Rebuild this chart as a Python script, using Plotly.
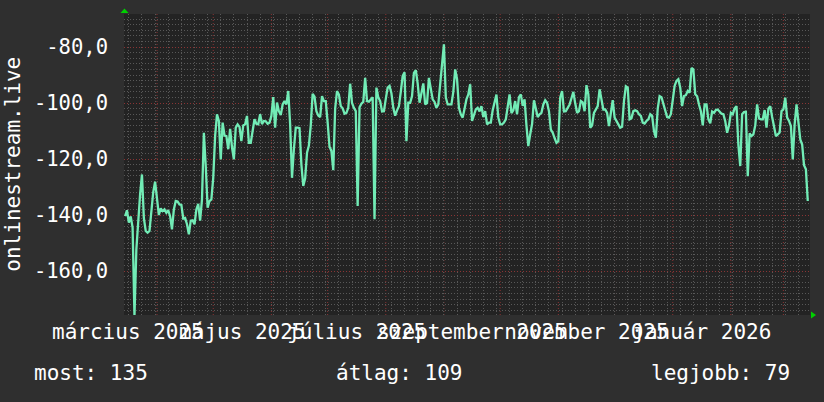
import pandas as pd
import plotly.graph_objects as go

# ---------------- data ----------------
start_date = "2025-03-15"
values = [
    -140.4, -138.3, -142.7, -140.5, -144.5, -176.0, -152.3, -142.0, -132.6, -125.5,
    -141.0, -145.7, -146.3, -145.7, -138.0, -131.8, -128.1, -134.4, -140.0, -137.6,
    -138.6, -138.0, -139.2, -138.3, -140.4, -145.1, -138.0, -135.0, -135.2, -136.2,
    -136.4, -141.2, -141.0, -143.3, -146.9, -142.0, -141.9, -143.3, -138.0, -136.0,
    -142.0, -134.4, -110.6, -122.5, -137.4, -135.0, -134.4, -126.7, -111.8, -104.0,
    -106.4, -120.1, -107.0, -111.6, -111.8, -116.5, -109.2, -115.8, -120.1, -108.8,
    -107.6, -108.5, -113.6, -108.0, -107.6, -104.6, -114.2, -114.2, -109.0, -105.8,
    -107.4, -107.6, -104.0, -107.5, -106.4, -106.5, -107.4, -107.0, -104.6, -97.9,
    -108.8, -99.8, -102.9, -104.3, -100.5, -99.3, -100.5, -95.7, -107.6, -126.7,
    -116.5, -108.8, -108.8, -109.0, -122.0, -129.6, -127.0, -117.7, -115.2, -108.0,
    -96.7, -97.7, -102.9, -104.5, -105.0, -97.5, -99.3, -99.3, -107.0, -115.6,
    -117.1, -124.0, -102.0, -95.7, -97.0, -101.1, -101.9, -103.8, -103.5, -101.7,
    -93.1, -100.0, -101.7, -102.9, -136.8, -101.5, -100.2, -99.6, -91.0, -99.3,
    -99.5, -98.7, -97.9, -141.5, -94.5, -98.0, -99.3, -103.0, -102.9, -98.5,
    -94.5, -93.9, -96.5, -101.7, -104.5, -102.6, -101.1, -96.0, -90.4, -89.0,
    -113.6, -99.9, -99.9, -97.5, -89.2, -88.3, -93.0, -99.9, -96.9, -93.0,
    -100.5, -100.0, -91.0, -95.0, -98.7, -99.6, -101.7, -100.5, -94.0, -86.8,
    -79.0, -98.0, -100.5, -100.5, -100.5, -96.0, -88.0, -91.5, -101.7, -104.0,
    -105.2, -102.0, -98.7, -96.9, -93.3, -106.4, -104.5, -102.3, -101.7, -103.0,
    -101.1, -105.0, -102.9, -107.6, -107.0, -107.0, -102.6, -100.1, -97.0, -105.2,
    -107.6, -107.6, -107.0, -105.8, -101.7, -96.9, -103.6, -102.6, -99.3, -104.0,
    -97.9, -96.9, -101.0, -98.7, -108.0, -115.4, -111.2, -107.5, -99.0, -102.0,
    -105.0, -104.0, -103.5, -100.5, -99.0, -99.9, -102.9, -109.5, -110.6, -112.5,
    -114.2, -113.6, -98.0, -95.7, -103.0, -102.9, -101.7, -100.5, -98.3, -96.0,
    -100.1, -103.5, -102.9, -99.3, -99.8, -102.9, -93.6, -96.9, -108.8, -108.0,
    -103.5, -102.5, -101.1, -95.1, -99.0, -102.3, -102.3, -103.5, -108.2, -104.0,
    -99.0, -105.2, -106.2, -107.6, -108.8, -108.5, -99.3, -94.0, -94.5, -105.8,
    -105.4, -102.9, -102.6, -102.9, -104.0, -104.6, -107.0, -107.3, -106.4, -105.8,
    -104.0, -104.6, -110.0, -112.4, -102.0, -97.5, -97.9, -100.0, -102.9, -105.0,
    -105.2, -104.0, -99.0, -93.9, -92.1, -91.5, -94.5, -101.1, -97.5, -97.2,
    -95.7, -96.3, -87.5, -88.0, -96.9, -97.6, -100.5, -102.9, -108.0, -100.5,
    -100.5, -105.8, -107.2, -103.0, -103.5, -102.5, -102.3, -102.9, -103.8, -104.0,
    -106.5, -110.6, -108.0, -103.5, -104.0, -101.9, -101.1, -115.0, -122.5, -104.0,
    -103.2, -103.1, -126.1, -110.8, -111.8, -111.2, -108.0, -100.5, -105.5, -105.8,
    -105.8, -102.5, -108.8, -102.0, -101.1, -105.0, -108.8, -111.8, -111.2, -110.5,
    -102.9, -102.3, -98.1, -105.2, -106.4, -108.2, -120.1, -107.6, -100.5, -106.4,
    -113.0, -114.8, -122.2, -123.7, -135.0,
]

label_months = ["2025-03", "2025-05", "2025-07", "2025-09", "2025-11", "2026-01"]
label_texts = ["március 2025", "május 2025", "július 2025",
               "szeptember 2025", "november 2025", "január 2026"]
ytick_values = [-80, -100, -120, -140, -160]
ytick_texts = ["-80,0", "-100,0", "-120,0", "-140,0", "-160,0"]
y_title = "onlinestream.live"
summary_texts = ["most: 135", "átlag: 109", "legjobb: 79"]
x_start = "2025-03-14 10:00"
x_end = "2026-03-15 04:30"
grid_month_first = "2025-04-01"
grid_month_last = "2026-03-01"
week_anchor = "2025-03-17"

# ---------------- derived ----------------
dates = pd.date_range(start_date, periods=len(values), freq="D")
mids = []
for m in label_months:
    ms = pd.Timestamp(m + "-01")
    me = ms + pd.offsets.MonthBegin(1)
    mids.append(ms + (me - ms) / 2)
month_starts = pd.date_range(grid_month_first, grid_month_last, freq="MS")

BG = "#2f2f2f"
PLOT_BG = "#232323"
MINOR = "#585858"
MAJOR = "#8a3434"
LINE = "#72ecb6"
FONT = "DejaVu Sans Mono, monospace"

fig = go.Figure()
fig.add_trace(go.Scatter(x=dates, y=values, mode="lines",
                         line=dict(color=LINE, width=2.3), hoverinfo="skip",
                         showlegend=False))

shapes = []
for d in month_starts:
    shapes.append(dict(type="line", xref="x", yref="paper", x0=d, x1=d, y0=0, y1=1,
                       line=dict(color=MAJOR, width=1, dash="1px,2px"), layer="between"))
# green axis arrows
shapes.append(dict(type="path", xref="paper", yref="paper",
                   path="M -0.0051,1.0033 L 0.0066,1.0033 L 0.0007,1.0183 Z",
                   fillcolor="#00d000", line=dict(width=0)))
shapes.append(dict(type="path", xref="paper", yref="paper",
                   path="M 1.0015,0.0116 L 1.0015,-0.0116 L 1.0088,0 Z",
                   fillcolor="#00d000", line=dict(width=0)))

annotations = [
    dict(text=y_title, xref="paper", yref="paper", x=-0.163, y=0.5, textangle=-90,
         showarrow=False, font=dict(family=FONT, size=21, color="white"),
         xanchor="center", yanchor="middle"),
]
for t, px in zip(summary_texts, [-0.134, 0.3066, 0.7658]):
    annotations.append(dict(text=t, xref="paper", yref="paper", x=px, y=-0.192,
                            showarrow=False, xanchor="left", yanchor="middle",
                            font=dict(family=FONT, size=21, color="white")))

fig.update_layout(
    width=824, height=402,
    margin=dict(l=124, r=14, t=14, b=87),
    paper_bgcolor=BG, plot_bgcolor=PLOT_BG,
    font=dict(family=FONT, color="white"),
    shapes=shapes, annotations=annotations,
    xaxis=dict(type="date", range=[x_start, x_end], automargin=False,
               tickmode="array", tickvals=mids, ticktext=label_texts, tickangle=0,
               showgrid=False, zeroline=False, showline=False, ticks="",
               tickfont=dict(family=FONT, size=21, color="white"),
               ticklabelstandoff=2,
               minor=dict(tick0=week_anchor, dtick=7 * 86400000, showgrid=True,
                          gridcolor=MINOR, gridwidth=1, griddash="1px,2px", ticks="")),
    yaxis=dict(range=[-175.7, -68.2], tickmode="array", tickvals=ytick_values,
               ticktext=ytick_texts, showgrid=True, gridcolor=MAJOR, gridwidth=1,
               griddash="1px,2px", zeroline=False, showline=False, ticks="",
               automargin=False,
               tickfont=dict(family=FONT, size=20.5, color="white"),
               ticklabelstandoff=15,
               minor=dict(dtick=2, tick0=0, showgrid=True, gridcolor=MINOR,
                          gridwidth=1, griddash="1px,2px", ticks="")),
)

fig.write_html("out.html", config={"displayModeBar": False},
               post_script="document.body.style.margin='0px';")
